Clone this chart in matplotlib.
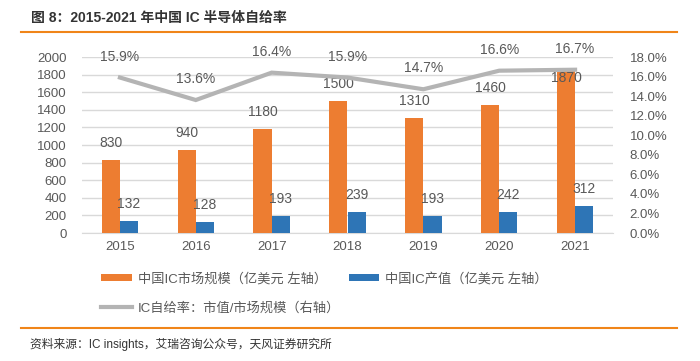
import matplotlib
matplotlib.use("Agg")
import matplotlib.pyplot as plt
from matplotlib.lines import Line2D
import numpy as np

plt.rcParams['font.family'] = ['Liberation Sans', 'Noto Sans CJK SC', 'DejaVu Sans']

years = ["2015", "2016", "2017", "2018", "2019", "2020", "2021"]
market = [830, 940, 1180, 1500, 1310, 1460, 1870]
output = [132, 128, 193, 239, 193, 242, 312]
ratio = [15.9, 13.6, 16.4, 15.9, 14.7, 16.6, 16.7]

left_ticks = list(range(0, 2001, 200))
right_ticks = list(range(0, 19, 2))

ORANGE = "#ED7D31"
BLUE = "#2E75B6"
GREY = "#B4B4B4"
TXT = "#595959"

W, H = 700, 361
fig = plt.figure(figsize=(W/100, H/100), dpi=100)

def fx(px): return px / W
def fy(py): return 1 - py / H

AX_TOP, AX_BOT = 57, 233
ax = fig.add_axes([fx(82), fy(AX_BOT), fx(613) - fx(82), fy(AX_TOP) - fy(AX_BOT)])
ax2 = ax.twinx()

x = np.arange(len(years))
bw = 0.24
b1 = ax.bar(x - bw/2, market, bw, color=ORANGE, zorder=3)
b2 = ax.bar(x + bw/2, output, bw, color=BLUE, zorder=3)

ax.set_xlim(-0.5, len(years) - 0.5)
ax.set_ylim(0, 2000)
ax.set_yticks(left_ticks)
ax.set_yticklabels([str(v) for v in left_ticks])
ax.set_xticks(x)
ax.set_xticklabels(years)
ax.grid(axis='y', color="#D9D9D9", linewidth=1, zorder=0)
ax.set_axisbelow(True)
for s in ['top', 'right', 'left']:
    ax.spines[s].set_visible(False)
ax.spines['bottom'].set_color("#D9D9D9")
ax.tick_params(axis='both', length=0, labelsize=9.5, labelcolor=TXT)
ax.tick_params(axis='y', pad=11)
ax.tick_params(axis='x', pad=6)

ax_h_px = AX_BOT - AX_TOP
max_center_px = ax_h_px - 21  # labels clamped inside the plot area

def bar_label(xi, v):
    top_px = v / 2000 * ax_h_px
    off_px = min(17, max_center_px - top_px)
    ax.annotate(str(v), (xi, v), xytext=(0, off_px * 0.72), textcoords='offset points',
                ha='center', va='center', fontsize=10, color=TXT, zorder=5)

for xi, v in zip(x - bw/2, market):
    bar_label(xi, v)
for xi, v in zip(x + bw/2, output):
    bar_label(xi, v)

ln, = ax2.plot(x, ratio, color=GREY, linewidth=3, zorder=4, solid_joinstyle='miter')
ax2.set_ylim(0, 18)
ax2.set_yticks(right_ticks)
ax2.set_yticklabels([f"{v:.1f}%" for v in right_ticks])
for s in ['top', 'right', 'left', 'bottom']:
    ax2.spines[s].set_visible(False)
ax2.tick_params(axis='y', length=0, labelsize=9.5, labelcolor=TXT, pad=12)
for xi, v in zip(x, ratio):
    ax2.annotate(f"{v:.1f}%", (xi, v), xytext=(0, 15), textcoords='offset points',
                 ha='center', va='center', fontsize=10, color=TXT, zorder=5)

# Legend
handles = [b1, ln, b2]
labels = ["中国IC市场规模（亿美元 左轴）", "IC自给率：市值/市场规模（右轴）", "中国IC产值（亿美元 左轴）"]
lg = fig.legend(handles, labels, ncol=2, loc='upper left',
                bbox_to_anchor=(fx(96), fy(267)), frameon=False, fontsize=9.5,
                handlelength=2.3, handleheight=0.5, handletextpad=0.5,
                columnspacing=0.6, labelspacing=1.25, borderaxespad=0)
for t in lg.get_texts():
    t.set_color(TXT)

# Title and decorations
fig.text(fx(31), fy(18), "图 8：2015-2021 年中国 IC 半导体自给率", fontsize=10,
         fontweight='bold', color="#333333", ha='left', va='center')
fig.add_artist(Line2D([fx(21), fx(677)], [fy(32), fy(32)], color="#F08519", linewidth=1.5))
fig.add_artist(Line2D([fx(21), fx(677)], [fy(328), fy(328)], color="#F08519", linewidth=1.5))
fig.text(fx(30), fy(344), "资料来源：IC insights，艾瑞咨询公众号，天风证券研究所", fontsize=8.5,
         color="#333333", ha='left', va='center')

fig.savefig("out.png", dpi=100)
